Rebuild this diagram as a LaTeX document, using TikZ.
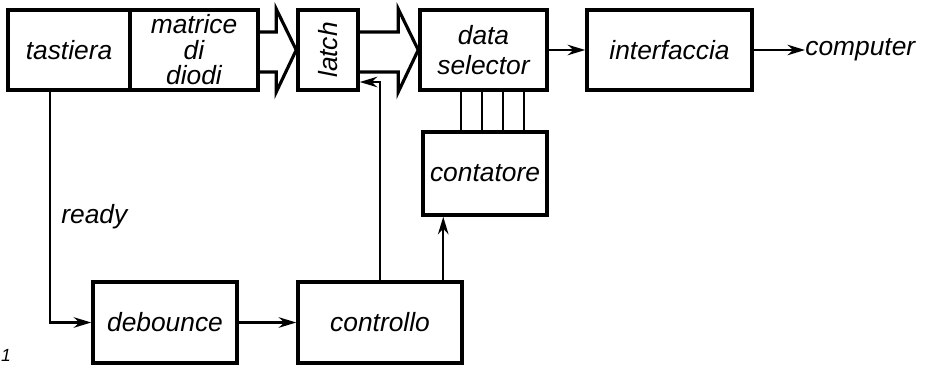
\documentclass[tikz,border=0pt]{standalone}
\usepackage{fontspec}
\setmainfont{Liberation Sans}
\usetikzlibrary{arrows.meta}

\begin{document}
\begin{tikzpicture}[>={Stealth[length=10pt,width=6pt]},
  blk/.style={draw,line width=2pt,minimum height=1.6cm,inner sep=0pt,align=center},
  lbl/.style={font=\fontsize{15}{18}\selectfont\itshape,inner sep=0pt},
  bus/.style={line width=1.8pt,line join=miter},
  sig/.style={line width=1.2pt}]
  \useasboundingbox (0,0) rectangle (18.56,-7.3);
  % top row
  \node[blk,lbl,minimum width=2.44cm] (tast) at (1.38,-1.0) {tastiera};
  \node[blk,lbl,minimum width=2.56cm,font=\fontsize{15}{14.5}\selectfont\itshape] (mat) at (3.88,-1.0) {matrice\\di\\diodi};
  \node[blk,lbl,minimum width=1.2cm] (latch) at (6.56,-1.0) {\rotatebox{90}{latch}};
  \node[blk,lbl,minimum width=2.54cm,font=\fontsize{15}{17}\selectfont\itshape] (ds) at (9.67,-1.0) {data\\selector};
  \node[blk,lbl,minimum width=3.3cm] (intf) at (13.39,-1.0) {interfaccia};
  \node[lbl,anchor=west] (comp) at (16.1,-1.0) {computer};
  % lower blocks
  \node[blk,lbl,minimum width=2.48cm,minimum height=1.66cm] (cont) at (9.7,-3.47) {contatore};
  \node[blk,lbl,minimum width=2.88cm,minimum height=1.62cm] (deb) at (3.3,-6.45) {debounce};
  \node[blk,lbl,minimum width=3.28cm,minimum height=1.62cm] (ctrl) at (7.6,-6.45) {controllo};
  \node[lbl,anchor=west] (rdy) at (1.22,-4.34) {ready};
  \node[lbl,font=\fontsize{10}{12}\selectfont\itshape] (fig) at (0.12,-7.1) {1};
  % buses
  \foreach \a/\b in {mat/latch,latch/ds}
    \draw[bus] ([yshift=.36cm]\a.east) -| ([xshift=-.4cm,yshift=.82cm]\b.west) -- (\b.west)
      -- ([xshift=-.4cm,yshift=-.84cm]\b.west) |- ([yshift=-.44cm]\a.east);
  \foreach \x in {0.8,1.22,1.64,2.06}
    \draw[sig] ([xshift=\x cm]cont.north west |- ds.south) -- ([xshift=\x cm]cont.north west);
  % signals
  \draw[sig,->] (ds) -- (intf);
  \draw[sig,->] (intf) -- (comp);
  \draw[sig,->] ([xshift=-.38cm]tast.south) |- (deb.west);
  \draw[sig,->] (deb) -- (ctrl);
  \draw[sig,->] (ctrl.north) |- ([yshift=-.64cm]latch.east);
  \draw[sig,->] ([xshift=.44cm]cont.south west |- ctrl.north) -- ([xshift=.44cm]cont.south west);
\end{tikzpicture}
\end{document}
